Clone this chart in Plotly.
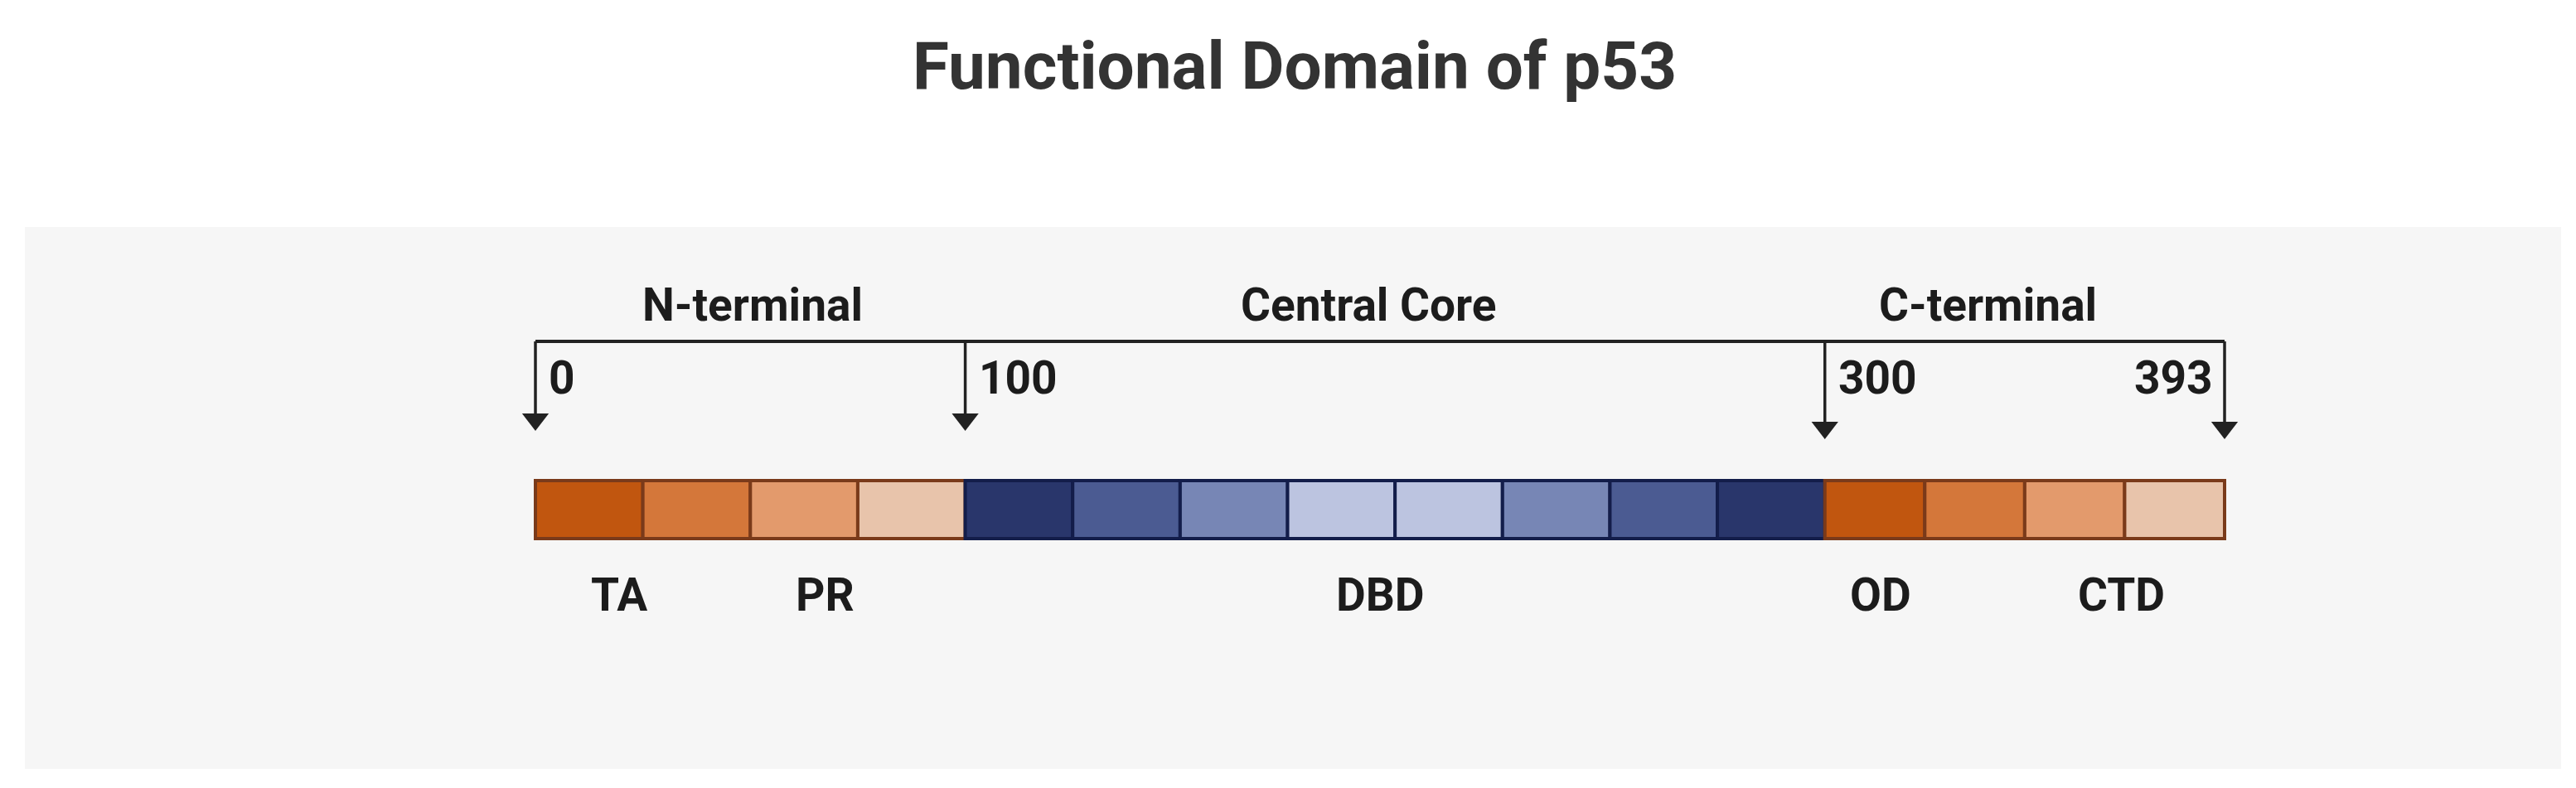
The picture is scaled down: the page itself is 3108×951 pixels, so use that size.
import plotly.graph_objects as go

seg_starts = [0, 25, 50, 75, 100, 125, 150, 175, 200, 225, 250, 275, 300, 323.25, 346.5, 369.75]
seg_ends = [25, 50, 75, 100, 125, 150, 175, 200, 225, 250, 275, 300, 323.25, 346.5, 369.75, 393]
seg_colors = ["#C1560F", "#D4773A", "#E39A6C", "#E8C4AB",
              "#29366B", "#4B5B92", "#7786B5", "#BCC4E0", "#BCC4E0", "#7786B5", "#4B5B92", "#29366B",
              "#C1560F", "#D4773A", "#E39A6C", "#E8C4AB"]
seg_borders = ["#7A3A1A"] * 4 + ["#131D4A"] * 8 + ["#7A3A1A"] * 4
positions = [0, 100, 300, 393]
pos_labels = ["0", "100", "300", "393"]
regions = ["N-terminal", "Central Core", "C-terminal"]
region_x = [50.5, 193.8, 338]
domains = ["TA", "PR", "DBD", "OD", "CTD"]
domain_x = [19.5, 67.3, 196.5, 313, 369]

W, H = 3108, 951
x0px, x1px = 638, 2676
scale = (x1px - x0px) / 393
xr = [-x0px / scale, 393 + (W - x1px) / scale]
FONT = "Roboto"
TXT = "#1c1c1c"

fig = go.Figure()
fig.add_trace(go.Bar(
    base=seg_starts, x=[e - s for s, e in zip(seg_starts, seg_ends)],
    y=[607] * len(seg_starts), width=70, orientation="h",
    marker=dict(color=seg_colors, line=dict(color=seg_borders, width=4)),
    hoverinfo="skip", showlegend=False))

fig.add_trace(go.Scatter(x=[positions[0], positions[-1]], y=[404, 404], mode="lines",
                         line=dict(color="#222", width=4), showlegend=False, hoverinfo="skip"))
tips = [492, 492, 502, 502]
for p, t in zip(positions, tips):
    fig.add_trace(go.Scatter(x=[p, p], y=[404, t], mode="lines",
                             line=dict(color="#222", width=3.5), showlegend=False, hoverinfo="skip"))
fig.add_trace(go.Scatter(x=positions, y=[t + 6 for t in tips], mode="markers",
                         marker=dict(symbol="triangle-down", size=28, color="#222"),
                         showlegend=False, hoverinfo="skip"))

ann = []
for r, x in zip(regions, region_x):
    ann.append(dict(x=x, y=360, text=f"<b>{r}</b>", showarrow=False,
                    font=dict(family=FONT, size=55, color=TXT)))
for p, l in zip(positions, pos_labels):
    if l == "393":
        ann.append(dict(x=p, y=448, text=f"<b>{l}</b>", showarrow=False, xanchor="right",
                        xshift=-12, font=dict(family=FONT, size=55, color=TXT)))
    else:
        ann.append(dict(x=p, y=448, text=f"<b>{l}</b>", showarrow=False, xanchor="left",
                        xshift=14, font=dict(family=FONT, size=55, color=TXT)))
for d, x in zip(domains, domain_x):
    ann.append(dict(x=x, y=710, text=f"<b>{d}</b>", showarrow=False,
                    font=dict(family=FONT, size=55, color=TXT)))
ann.append(dict(x=0.5, xref="paper", y=72, text="<b>Functional Domain of p53</b>", showarrow=False,
                font=dict(family=FONT, size=80, color="#333333")))

fig.update_layout(
    width=W, height=H, margin=dict(l=0, r=0, t=0, b=0),
    paper_bgcolor="white", plot_bgcolor="white",
    xaxis=dict(range=xr, visible=False, fixedrange=True),
    yaxis=dict(range=[H, 0], visible=False, fixedrange=True),
    annotations=ann, barmode="overlay",
    shapes=[dict(type="rect", xref="paper", yref="y", x0=22 / W, x1=3082 / W, y0=266, y1=920,
                 fillcolor="#F6F6F6", line=dict(width=0), layer="below")],
)
fig.write_html("out.html")
